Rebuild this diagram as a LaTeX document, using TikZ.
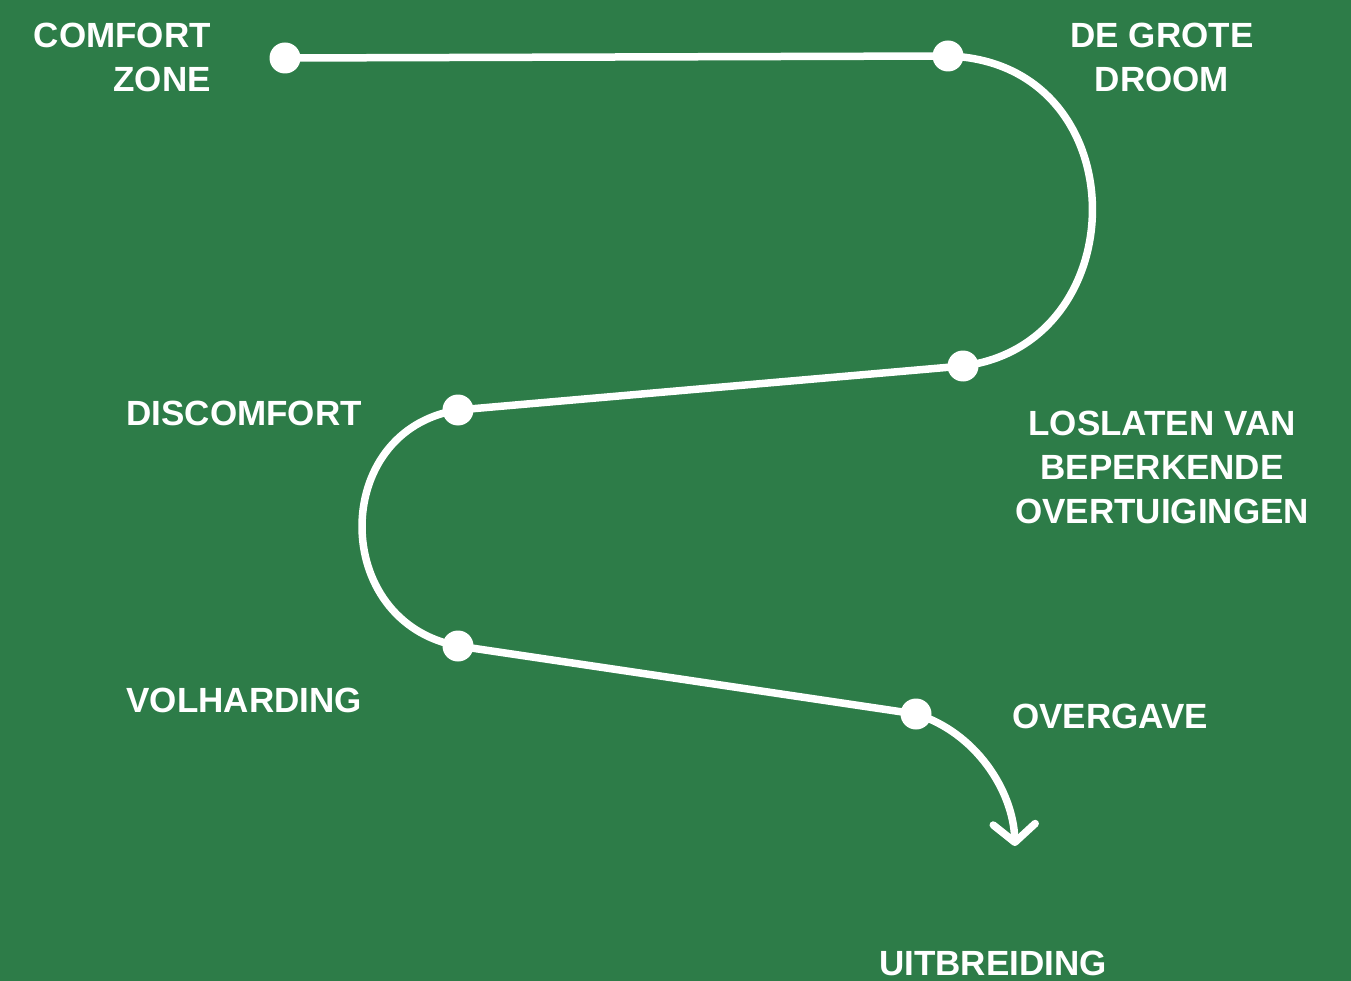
\documentclass[tikz,border=0pt]{standalone}
\usepackage{fontspec}
\setmainfont{Liberation Sans}
\usetikzlibrary{arrows.meta}
\definecolor{bggreen}{HTML}{2D7C48}
\begin{document}
\begin{tikzpicture}[x=1pt,y=-1pt,
  pathline/.style={draw=white,line width=7.5pt,line cap=round},
  dot/.style={circle,fill=white,minimum size=31pt,inner sep=0pt},
  lbl/.style={text=white,font=\fontsize{35pt}{44pt}\selectfont\bfseries,inner sep=0pt}]
\fill[bggreen] (0,0) rectangle (1351,981);
\useasboundingbox (0,0) rectangle (1351,981);
% points
\coordinate (A) at (285,58);
\coordinate (B) at (948,56);
\coordinate (C) at (963,366);
\coordinate (D) at (458,410);
\coordinate (E) at (458,646);
\coordinate (F) at (916,714);
\coordinate (G) at (1015,846);
% path
\draw[pathline] (A) -- (B) .. controls (1138,62) and (1138,344) .. (C) -- (D)
  .. controls (330,430) and (330,622) .. (E) -- (F);
\draw[pathline,-{Straight Barb[length=18pt,width=42pt,line width=7.5pt,round]}] (F) .. controls (975,732) and (1013,790) .. (G);
\foreach \p in {A,B,C,D,E,F} \node[dot] (d\p) at (\p) {};
% labels
\node[lbl,align=right,anchor=east] (lA) at (211,57) {COMFORT\\ZONE};
\node[lbl,align=center] (lB) at (1162,57) {DE GROTE\\DROOM};
\node[lbl,anchor=east] (lD) at (362,413) {DISCOMFORT};
\node[lbl,align=center] (lC) at (1162,467) {LOSLATEN VAN\\BEPERKENDE\\OVERTUIGINGEN};
\node[lbl,anchor=east] (lE) at (362,700) {VOLHARDING};
\node[lbl,anchor=west] (lF) at (1012,716) {OVERGAVE};
\node[lbl,anchor=base] (lG) at (993,975) {UITBREIDING};
\end{tikzpicture}
\end{document}
